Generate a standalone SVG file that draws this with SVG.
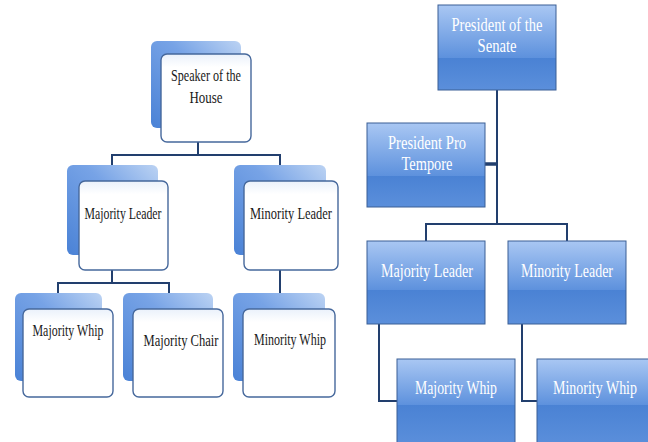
<svg xmlns="http://www.w3.org/2000/svg" width="648" height="442" viewBox="0 0 648 442">
<defs>
<linearGradient id="back" x1="0" y1="1" x2="1" y2="0">
<stop offset="0" stop-color="#4a82d6"/>
<stop offset="0.6" stop-color="#77a3e6"/>
<stop offset="1" stop-color="#bcd3f3"/>
</linearGradient>
<linearGradient id="front" x1="0" y1="0" x2="0" y2="1">
<stop offset="0" stop-color="#eaf1fb"/>
<stop offset="0.15" stop-color="#ffffff"/>
<stop offset="1" stop-color="#ffffff"/>
</linearGradient>
<linearGradient id="top" x1="0" y1="0" x2="0" y2="1">
<stop offset="0" stop-color="#a9c7f3"/>
<stop offset="1" stop-color="#5d91dd"/>
</linearGradient>
<linearGradient id="bot" x1="0" y1="0" x2="0" y2="1">
<stop offset="0" stop-color="#4a82d4"/>
<stop offset="1" stop-color="#5b8fdb"/>
</linearGradient>
</defs>
<style>
.back{fill:url(#back);}
.front{fill:url(#front);stroke:#46689c;stroke-width:1.4;}
.lt{font-family:"Liberation Serif",serif;font-size:17px;fill:#1a1a1a;text-anchor:middle;}
.rt{font-family:"Liberation Serif",serif;font-size:19px;fill:#ffffff;text-anchor:middle;}
.conn{fill:none;stroke:#223f6e;stroke-width:2;}
.bx{stroke:#3a5f95;stroke-width:1;}
</style>
<rect width="648" height="442" fill="#ffffff"/>
<g id="connectors">
<polyline class="conn" points="198,142 198,155"/>
<polyline class="conn" points="112,165 112,155 280,155 280,165"/>
<polyline class="conn" points="112,270 112,283"/>
<polyline class="conn" points="58,293 58,283 169,283 169,293"/>
<polyline class="conn" points="280,270 280,293"/>
<polyline class="conn" points="497,90 497,224"/>
<polyline class="conn" points="485,164 497,164" style="stroke-width:3.5"/>
<polyline class="conn" points="426,241 426,224 567,224 567,241"/>
<polyline class="conn" points="379,324 379,401 397,401"/>
<polyline class="conn" points="522,324 522,401 537,401"/>
</g>
<g id="speaker">
<rect class="back" x="151" y="41" width="90" height="87" rx="6"/>
<rect class="front" x="161" y="54" width="90" height="88" rx="6"/>
<text class="lt" x="206" y="81" textLength="70" lengthAdjust="spacingAndGlyphs">Speaker of the</text>
<text class="lt" x="206" y="103" textLength="33" lengthAdjust="spacingAndGlyphs">House</text>
</g>
<g id="house-majority-leader">
<rect class="back" x="67" y="165" width="91" height="90" rx="6"/>
<rect class="front" x="79" y="181" width="89" height="89" rx="6"/>
<text class="lt" x="123" y="219" textLength="77" lengthAdjust="spacingAndGlyphs">Majority Leader</text>
</g>
<g id="house-minority-leader">
<rect class="back" x="234" y="165" width="92" height="90" rx="6"/>
<rect class="front" x="244" y="181" width="94" height="89" rx="6"/>
<text class="lt" x="291" y="219" textLength="82" lengthAdjust="spacingAndGlyphs">Minority Leader</text>
</g>
<g id="house-majority-whip">
<rect class="back" x="15" y="293" width="87" height="88" rx="6"/>
<rect class="front" x="23" y="309" width="90" height="88" rx="6"/>
<text class="lt" x="68" y="336" textLength="71" lengthAdjust="spacingAndGlyphs">Majority Whip</text>
</g>
<g id="house-majority-chair">
<rect class="back" x="123" y="293" width="90" height="88" rx="6"/>
<rect class="front" x="133" y="309" width="90" height="88" rx="6"/>
<text class="lt" x="181" y="346" textLength="75" lengthAdjust="spacingAndGlyphs">Majority Chair</text>
</g>
<g id="house-minority-whip">
<rect class="back" x="233" y="293" width="92" height="88" rx="6"/>
<rect class="front" x="243" y="309" width="92" height="88" rx="6"/>
<text class="lt" x="290" y="345" textLength="72" lengthAdjust="spacingAndGlyphs">Minority Whip</text>
</g>
<g id="president-senate">
<rect x="438" y="5" width="118" height="53" fill="url(#top)"/>
<rect x="438" y="58" width="118" height="32" fill="url(#bot)"/>
<rect class="bx" x="438" y="5" width="118" height="85" fill="none"/>
<text class="rt" x="497" y="31" textLength="91" lengthAdjust="spacingAndGlyphs">President of the</text>
<text class="rt" x="497" y="52" textLength="39" lengthAdjust="spacingAndGlyphs">Senate</text>
</g>
<g id="president-pro-tempore">
<rect x="367" y="123" width="118" height="53" fill="url(#top)"/>
<rect x="367" y="176" width="118" height="31" fill="url(#bot)"/>
<rect class="bx" x="367" y="123" width="118" height="84" fill="none"/>
<text class="rt" x="427" y="149" textLength="78" lengthAdjust="spacingAndGlyphs">President Pro</text>
<text class="rt" x="427" y="170" textLength="51" lengthAdjust="spacingAndGlyphs">Tempore</text>
</g>
<g id="senate-majority-leader">
<rect x="367" y="241" width="118" height="49" fill="url(#top)"/>
<rect x="367" y="290" width="118" height="34" fill="url(#bot)"/>
<rect class="bx" x="367" y="241" width="118" height="83" fill="none"/>
<text class="rt" x="427" y="277" textLength="92" lengthAdjust="spacingAndGlyphs">Majority Leader</text>
</g>
<g id="senate-minority-leader">
<rect x="508" y="241" width="118" height="49" fill="url(#top)"/>
<rect x="508" y="290" width="118" height="34" fill="url(#bot)"/>
<rect class="bx" x="508" y="241" width="118" height="83" fill="none"/>
<text class="rt" x="567" y="277" textLength="92" lengthAdjust="spacingAndGlyphs">Minority Leader</text>
</g>
<g id="senate-majority-whip">
<rect x="397" y="359" width="118" height="46" fill="url(#top)"/>
<rect x="397" y="405" width="118" height="40" fill="url(#bot)"/>
<rect class="bx" x="397" y="359" width="118" height="86" fill="none"/>
<text class="rt" x="456" y="394" textLength="82" lengthAdjust="spacingAndGlyphs">Majority Whip</text>
</g>
<g id="senate-minority-whip">
<rect x="537" y="359" width="118" height="46" fill="url(#top)"/>
<rect x="537" y="405" width="118" height="40" fill="url(#bot)"/>
<rect class="bx" x="537" y="359" width="118" height="86" fill="none"/>
<text class="rt" x="595" y="394" textLength="84" lengthAdjust="spacingAndGlyphs">Minority Whip</text>
</g>
</svg>
